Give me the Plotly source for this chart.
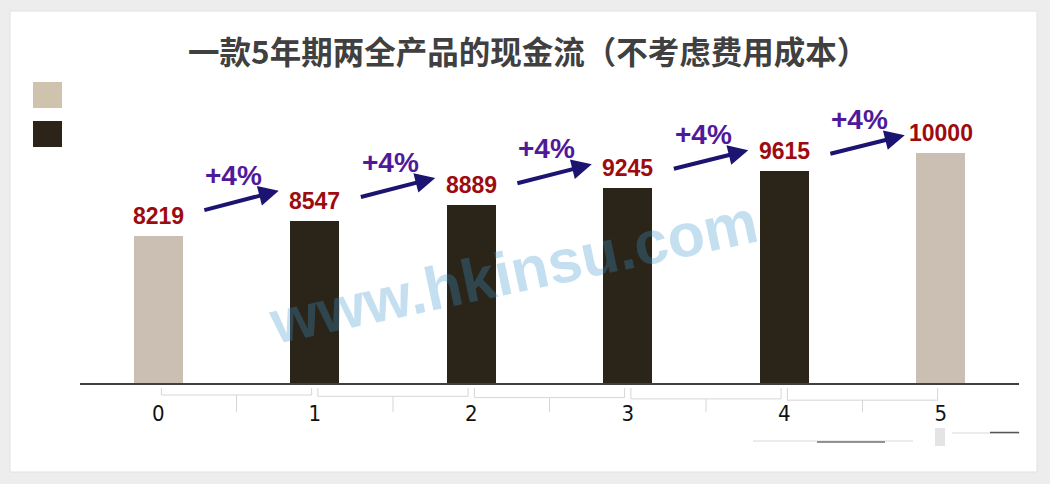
import plotly.graph_objects as go

# ---- data ----
years = [0, 1, 2, 3, 4, 5]
tick_labels = ["0", "1", "2", "3", "4", "5"]
cash_values = [8219, 8547, 8889, 9245, 9615, 10000]
growth_labels = ["+4%", "+4%", "+4%", "+4%", "+4%"]
bar_group = ["end", "mid", "mid", "mid", "mid", "end"]   # 0 / 5 light, 1-4 dark

title_text = "一款5年期两全产品的现金流（不考虑费用成本）"
watermark = "www.hkinsu.com"

# ---- styles ----
TAN = "#cbbfb3"
DARK = "#2b2419"
LABEL_RED = "#9e0b0f"
ARROW_NAVY = "#1b1470"
PCT_PURPLE = "#50189a"
W, H = 1050, 484
ML, MR, MT, MB = 80, 31, 100, 101
PLOT_H = H - MT - MB
Y_MIN, Y_MAX = 5053, 11148
PX_PER_UNIT = PLOT_H / (Y_MAX - Y_MIN)


def py_to_paper(py):
    return (H - MB - py) / PLOT_H


def px_to_paper(px):
    return (px - ML) / (W - ML - MR)


fig = go.Figure()

colors = [TAN if g == "end" else DARK for g in bar_group]
fig.add_trace(go.Bar(
    x=years, y=cash_values, width=0.31,
    marker=dict(color=colors, line=dict(width=0)),
    hoverinfo="x+y", showlegend=False,
))

annotations = []
# value labels
for x, v in zip(years, cash_values):
    annotations.append(dict(
        x=x, y=v, xref="x", yref="y", text=str(v), showarrow=False,
        yanchor="middle", yshift=20,
        font=dict(family="Liberation Sans, Arial, sans-serif", size=23,
                  color=LABEL_RED, weight="bold"),
    ))

# growth arrows and labels
for i, lab in enumerate(growth_labels):
    tail_x = years[i] + 0.285
    head_x = years[i] + 0.77
    tail_y = cash_values[i] + (25.5 - 2.1 * i) / PX_PER_UNIT
    head_y = cash_values[i + 1] + (30 - 3 * i) / PX_PER_UNIT
    annotations.append(dict(
        x=head_x, y=head_y, ax=tail_x, ay=tail_y,
        xref="x", yref="y", axref="x", ayref="y",
        text="", showarrow=True, arrowhead=2, arrowsize=1,
        arrowwidth=4, arrowcolor=ARROW_NAVY, standoff=0, startstandoff=0,
    ))
    annotations.append(dict(
        x=(tail_x + head_x) / 2, y=(tail_y + head_y) / 2,
        xref="x", yref="y", text=lab, showarrow=False,
        xshift=-7, yshift=25, yanchor="middle",
        font=dict(family="Liberation Sans, Arial, sans-serif", size=28,
                  color=PCT_PURPLE, weight="bold"),
    ))

# watermark
annotations.append(dict(
    x=px_to_paper(513), y=py_to_paper(272), xref="paper", yref="paper",
    text=watermark, showarrow=False, textangle=-12,
    font=dict(family="Liberation Sans, Arial, sans-serif", size=61,
              color="rgba(60,150,205,0.30)", weight="bold"),
))

shapes = []
# white card
shapes.append(dict(
    type="rect", xref="paper", yref="paper", layer="below",
    x0=px_to_paper(10), x1=px_to_paper(1037),
    y0=py_to_paper(472), y1=py_to_paper(11),
    fillcolor="white", line=dict(color="#e2e2e2", width=1),
))
# legend squares
shapes.append(dict(
    type="rect", xref="paper", yref="paper",
    x0=px_to_paper(33), x1=px_to_paper(62),
    y0=py_to_paper(108), y1=py_to_paper(82),
    fillcolor="#cfc3ae", line=dict(width=0),
))
shapes.append(dict(
    type="rect", xref="paper", yref="paper",
    x0=px_to_paper(33), x1=px_to_paper(62),
    y0=py_to_paper(147), y1=py_to_paper(121),
    fillcolor="#2c2419", line=dict(width=0),
))
# brackets under the axis
BR = "#d6d6d6"
for i in range(len(years) - 1):
    x0 = years[i] + 0.02
    x1 = years[i + 1] - 0.02
    xm = (years[i] + years[i + 1]) / 2
    yh = py_to_paper(395 + 1.3 * i)
    yt = py_to_paper(388)
    yb = py_to_paper(412)
    path = (f"M {x0},{yt} L {x0},{yh} L {x1},{yh} L {x1},{yt} "
            f"M {xm},{yh} L {xm},{yb}")
    shapes.append(dict(type="path", xref="x", yref="paper", path=path,
                       line=dict(color=BR, width=1)))

# faint stray lines bottom-right
shapes.append(dict(type="line", xref="paper", yref="paper",
                   x0=px_to_paper(753), x1=px_to_paper(913),
                   y0=py_to_paper(441), y1=py_to_paper(441),
                   line=dict(color="#d8d8d8", width=1)))
shapes.append(dict(type="line", xref="paper", yref="paper",
                   x0=px_to_paper(817), x1=px_to_paper(885),
                   y0=py_to_paper(442), y1=py_to_paper(442),
                   line=dict(color="#707070", width=1.5)))
shapes.append(dict(type="line", xref="paper", yref="paper",
                   x0=px_to_paper(952), x1=px_to_paper(1020),
                   y0=py_to_paper(433), y1=py_to_paper(433),
                   line=dict(color="#d8d8d8", width=1)))
shapes.append(dict(type="line", xref="paper", yref="paper",
                   x0=px_to_paper(990), x1=px_to_paper(1019),
                   y0=py_to_paper(432.5), y1=py_to_paper(432.5),
                   line=dict(color="#555555", width=1.5)))
shapes.append(dict(type="rect", xref="paper", yref="paper",
                   x0=px_to_paper(935), x1=px_to_paper(945),
                   y0=py_to_paper(446), y1=py_to_paper(428),
                   fillcolor="#e4e4e4", line=dict(width=0)))

fig.update_layout(
    width=W, height=H,
    margin=dict(l=ML, r=MR, t=MT, b=MB),
    paper_bgcolor="#ededed",
    plot_bgcolor="rgba(0,0,0,0)",
    title=dict(
        text=title_text, x=0.503, xanchor="center", xref="container",
        y=1 - 53 / H, yanchor="middle", yref="container",
        font=dict(family="Noto Sans CJK SC, sans-serif", size=31.5,
                  color="#404040", weight="bold"),
    ),
    xaxis=dict(
        range=[-0.5, 5.5], tickmode="array", tickvals=years,
        ticktext=tick_labels, showgrid=False, zeroline=False,
        showline=True, linecolor="#404040", linewidth=2,
        ticks="", ticklabelstandoff=10,
        tickfont=dict(family="Liberation Sans Narrow, DejaVu Sans Condensed, sans-serif",
                      size=22, color="#111111"),
    ),
    yaxis=dict(
        range=[Y_MIN, Y_MAX], visible=False, showgrid=False, zeroline=False,
    ),
    annotations=annotations,
    shapes=shapes,
    bargap=0,
)

fig.write_html(
    "out.html",
    config={"displayModeBar": False},
    post_script="document.body.style.margin='0';document.body.style.background='#ededed';",
)
